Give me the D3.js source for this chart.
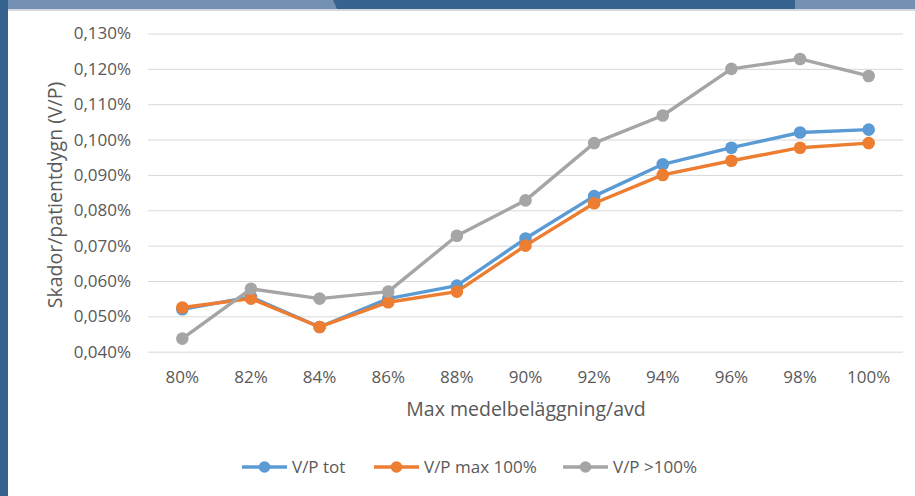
<!DOCTYPE html>
<html>
<head>
<meta charset="utf-8">
<script src="https://cdn.jsdelivr.net/npm/d3@7/dist/d3.min.js"></script>
<style>
  html, body { margin: 0; padding: 0; background: #fff; }
  svg { display: block; }
  text { font-family: "Open Sans", sans-serif; fill: #595959; }
</style>
</head>
<body>
<svg id="chart" width="915" height="496"></svg>
<script>
// Occupancy categories (x axis)
const categories = ["80%", "82%", "84%", "86%", "88%", "90%", "92%", "94%", "96%", "98%", "100%"];

// Injuries per patient day, in percent
const vpTot    = [0.052, 0.0555, 0.047, 0.055, 0.0587, 0.072, 0.084, 0.093, 0.0977, 0.102, 0.1028];
const vpMax100 = [0.0525, 0.055, 0.047, 0.054, 0.057, 0.070, 0.082, 0.090, 0.094, 0.0977, 0.099];
const vpOver100 = [0.0437, 0.0578, 0.055, 0.057, 0.0728, 0.0828, 0.099, 0.1068, 0.120, 0.1228, 0.118];

const seriesNames = ["V/P tot", "V/P max 100%", "V/P >100%"];
const yTicks = [0.04, 0.05, 0.06, 0.07, 0.08, 0.09, 0.10, 0.11, 0.12, 0.13];

const colors = ["#5b9bd5", "#ed7d31", "#a5a5a5"];
const series = [vpTot, vpMax100, vpOver100].map((values, i) => ({
  name: seriesNames[i], values, color: colors[i]
}));

const font = "'Open Sans', sans-serif";
const svg = d3.select("#chart");

// Window frame around the chart
svg.append("rect").attr("x", 0).attr("y", 0).attr("width", 915).attr("height", 9).attr("fill", "#7491b4");
svg.append("path").attr("d", "M333,0 L795,0 L795,9 L337,9 Z").attr("fill", "#36628f");
svg.append("rect").attr("x", 0).attr("y", 9).attr("width", 915).attr("height", 2).attr("fill", "#d4d7db");
svg.append("rect").attr("x", 0).attr("y", 0).attr("width", 8).attr("height", 496).attr("fill", "#36628f");
svg.append("path").attr("d", "M0,0 L5,0 L8,9 L0,9 Z").attr("fill", "#36628f");

const plotLeft = 148, plotRight = 903, plotTop = 33.5, plotBottom = 351.7;

const x = d3.scaleBand().domain(categories).range([plotLeft, plotRight]);
const y = d3.scaleLinear().domain([0.04, 0.13]).range([plotBottom, plotTop]);

// Horizontal gridlines with value labels
const yAxis = d3.axisLeft(y).tickValues(yTicks)
  .tickSize(-(plotRight - plotLeft)).tickPadding(17)
  .tickFormat(d => d3.format(".3f")(d).replace(".", ",") + "%");
const gy = svg.append("g").attr("transform", `translate(${plotLeft},0)`).call(yAxis);
gy.select(".domain").remove();
gy.selectAll(".tick line").attr("stroke", "#d9d9d9").attr("stroke-width", 1);
gy.selectAll(".tick text").attr("font-size", 17).attr("fill", "#595959")
  .style("font-family", font);

// Category axis labels
const xAxis = d3.axisBottom(x).tickSize(0).tickPadding(19);
const gx = svg.append("g").attr("transform", `translate(0,${plotBottom})`).call(xAxis);
gx.select(".domain").remove();
gx.selectAll(".tick text").attr("font-size", 17).attr("fill", "#595959")
  .style("font-family", font);

// Axis titles
svg.append("text").attr("x", 526).attr("y", 416).attr("text-anchor", "middle")
  .attr("font-size", 19.5).text("Max medelbeläggning/avd");
svg.append("text").attr("transform", "translate(62,195) rotate(-90)").attr("text-anchor", "middle")
  .attr("font-size", 19.5).text("Skador/patientdygn (V/P)");

// Lines and markers
const cx = c => x(c) + x.bandwidth() / 2;
const line = d3.line().x((d, i) => cx(categories[i])).y(d => y(d));

series.forEach(s => {
  const g = svg.append("g");
  g.append("path").datum(s.values).attr("d", line)
    .attr("fill", "none").attr("stroke", s.color).attr("stroke-width", 3.4)
    .attr("stroke-linejoin", "round");
  g.selectAll("circle").data(s.values).join("circle")
    .attr("cx", (d, i) => cx(categories[i])).attr("cy", d => y(d))
    .attr("r", 6.3).attr("fill", s.color);
});

// Legend
const legendX = [242, 374, 563];
const legend = svg.append("g");
series.forEach((s, i) => {
  const g = legend.append("g").attr("transform", `translate(${legendX[i]},467)`);
  g.append("line").attr("x1", 0).attr("x2", 45).attr("y1", 0).attr("y2", 0)
    .attr("stroke", s.color).attr("stroke-width", 3.4);
  g.append("circle").attr("cx", 22.5).attr("cy", 0).attr("r", 5.8).attr("fill", s.color);
  g.append("text").attr("x", 50).attr("y", 6).attr("font-size", 17).text(s.name);
});
</script>
</body>
</html>
